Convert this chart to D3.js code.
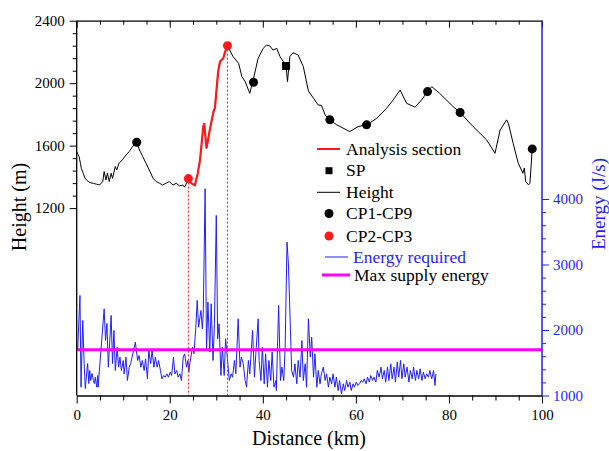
<!DOCTYPE html>
<html><head><meta charset="utf-8">
<script src="https://cdn.jsdelivr.net/npm/d3@7"></script>
<style>body{margin:0;background:#fff}svg{display:block}</style>
</head><body>
<script>
// Height profile (distance km, height m)
const heightDist = [0,0.5,0.8,1.0,1.4,1.8,2.1,2.5,2.9,3.6,4.3,4.9,5.6,5.9,6.3,6.6,7.0,7.4,7.7,8.3,8.6,9.1,9.8,10.6,11.3,12.0,12.6,12.9,13.5,14.2,14.9,15.6,16.4,17.1,17.8,18.5,19.2,19.9,20.7,21.4,22.1,22.8,23.2,23.6,24.0,24.5,25.0,25.4,26.0,26.5,27.2,27.4,27.9,28.6,29.4,29.7,30.4,30.8,31.5,31.9,32.4,33.6,34.8,35.5,36.2,37.2,38.0,39.0,40.1,40.8,41.5,42.2,43.0,43.7,44.6,45.0,45.3,45.8,46.5,47.6,48.7,49.8,50.9,51.9,52.6,53.4,54.4,55.9,58.7,60.5,62.3,64.5,66.6,68.0,69.5,70.9,72.7,74.1,75.4,76.3,78.0,80.9,82.4,85.2,88.1,89.9,91.0,92.4,92.8,93.8,94.9,95.9,96.2,96.5,97.1,97.4,97.6,97.9];
const heightValues = [1562,1530,1487,1455,1423,1391,1380,1370,1363,1358,1353,1348,1370,1434,1380,1423,1370,1423,1391,1466,1444,1487,1508,1540,1562,1594,1611,1622,1572,1530,1487,1444,1391,1370,1359,1348,1359,1370,1348,1359,1342,1348,1334,1359,1389,1362,1352,1347,1420,1508,1722,1743,1583,1700,1818,1840,2074,2138,2160,2202,2240,2170,2127,2042,2010,1935,2030,2160,2223,2244,2238,2212,2223,2170,2130,2110,2010,2170,2195,2180,2106,1950,1903,1860,1858,1796,1765,1733,1690,1722,1733,1775,1839,1892,1956,1871,1846,1892,1946,1978,1935,1850,1812,1722,1637,1551,1700,1765,1740,1615,1487,1423,1457,1370,1349,1359,1444,1579];
// Analysis section
const analysisStart = 24.0, analysisEnd = 32.4;
// Check points CP1-CP9
const cpDist = [12.9,24.0,32.4,38.0,54.4,62.3,75.4,82.4,97.9];
const cpHeight = [1622,1389,2240,2006,1765,1733,1946,1812,1579];
const cpRed = [1,2]; // indices of CP2, CP3
// SP
const spDist = [45.0], spHeight = [2110];
// Energy required (J/s)
const energyDist = [0.2,0.7,0.93,1.3,1.6,1.85,2.35,2.6,2.8,3.0,3.3,3.6,3.8,4.0,4.3,4.5,4.6,5.9,6.2,6.5,6.8,7.4,7.7,8.0,8.3,8.7,9.0,9.3,9.6,10.0,10.2,10.6,10.9,11.3,11.6,12.6,13.1,13.4,13.8,14.1,14.5,14.8,15.2,15.5,15.9,16.2,16.6,16.9,17.3,17.6,18.0,18.3,18.7,19.0,19.4,19.7,20.1,20.4,20.8,21.1,21.5,21.8,22.2,22.5,22.9,23.2,23.6,23.9,24.1,24.3,24.9,25.2,25.6,25.9,26.2,26.7,27.0,27.2,27.6,27.9,28.2,28.6,28.9,29.3,29.6,30.0,30.3,30.6,31.0,31.3,31.7,32.0,32.3,32.8,33.2,33.5,33.9,34.2,34.7,35.1,35.4,35.8,36.2,36.5,36.9,37.2,37.8,38.2,38.5,39.0,39.2,39.6,39.9,40.3,40.6,41.0,41.3,41.7,42.0,42.4,42.8,42.9,43.4,43.8,44.1,44.5,44.8,45.2,45.5,45.7,46.2,46.6,46.9,47.3,47.6,48.0,48.4,48.7,49.1,49.4,49.8,50.2,50.5,50.9,51.2,51.6,51.9,52.3,52.6,53.0,53.4,53.7,54.1,54.4,54.8,55.1,55.5,55.8,56.2,56.5,56.9,57.3,57.6,58.0,58.3,58.7,59.0,59.4,59.7,60.1,60.4,60.8,61.1,61.5,61.8,62.2,62.5,62.9,63.2,63.6,63.9,64.3,64.6,65.0,65.4,65.7,66.1,66.4,66.8,67.1,67.5,67.8,68.2,68.5,68.9,69.2,69.6,69.9,70.3,70.6,71.0,71.4,71.7,72.1,72.4,72.8,73.1,73.5,73.8,74.2,74.5,74.9,75.2,75.6,75.9,76.3,76.7,77.0,77.2];
const energyValues = [1687,2527,1127,2145,1488,1107,1488,1183,1382,1229,1336,1229,1183,1280,1127,1305,1127,2324,1840,2100,1432,2222,1488,1993,1382,1737,1432,1585,1382,1534,1331,1585,1229,1432,1488,1814,1534,1610,1432,1534,1382,1560,1254,1687,1488,1687,1432,1585,1432,1534,1382,1254,1305,1280,1330,1280,1356,1305,1585,1330,1382,1280,1330,1229,1585,1636,1432,1534,1356,1484,1738,1637,2043,2451,2043,2298,2018,2247,4157,1688,2425,1663,2400,1535,2094,3749,1866,2094,1306,1738,1306,1866,1637,1229,1331,1280,1535,1331,2171,1433,1586,1484,1229,1127,1535,1331,1993,1280,1637,2171,1535,1229,1738,1178,1637,1127,1535,1229,1663,1127,1229,1076,2374,1229,1433,1229,1738,3341,3010,2553,1382,1280,1484,1178,1535,1280,1840,1229,1484,1127,2171,1586,1890,1280,1637,1127,1382,1178,1331,1433,1229,1331,1127,1280,1178,1331,1127,1280,1076,1229,1025,1178,1076,1229,1127,1204,1076,1178,1127,1204,1153,1178,1229,1204,1255,1178,1280,1204,1306,1229,1280,1204,1382,1280,1433,1255,1382,1204,1433,1229,1484,1255,1433,1204,1509,1280,1535,1255,1484,1280,1433,1204,1382,1255,1433,1229,1382,1255,1407,1229,1356,1255,1331,1280,1382,1255,1382,1153,1330];
const maxSupply = 1700;
// Axis ticks
const xTicks = [0,20,40,60,80,100];
const heightTicks = [1200,1600,2000,2400];
const energyTicks = [1000,2000,3000,4000];
const legendLabels = ["Analysis section","SP","Height","CP1-CP9","CP2-CP3","Energy required","Max supply energy"];

const FONT = '"Liberation Serif"';
const W=609,H=451;
const L=76.7,R=542,T=20.7,B=395.5;
const BLUE="#1f1fff", RED="#ff1a1a", MAG="#ff00ff";
const svg=d3.select("body").append("svg").attr("width",W).attr("height",H);
const x=d3.scaleLinear().domain([0,100]).range([L,R]);
const yH=d3.scaleLinear().domain([0,2400]).range([B,T]);
const yE=d3.scaleLinear().domain([1000,1000+(B-T)/65.5*1000]).range([B,T]);

const heightData=heightDist.map((d,i)=>({d,v:heightValues[i]}));
const energyData=energyDist.map((d,i)=>({d,v:energyValues[i]}));

// energy line
svg.append("path").datum(energyData).attr("fill","none").attr("stroke",BLUE).attr("stroke-width",1)
  .attr("d",d3.line().x(p=>x(p.d)).y(p=>yE(p.v)));
// max supply
svg.append("line").attr("x1",x(0)).attr("x2",R).attr("y1",yE(maxSupply)).attr("y2",yE(maxSupply))
  .attr("stroke",MAG).attr("stroke-width",3);
// height line
svg.append("path").datum(heightData).attr("fill","none").attr("stroke","#000").attr("stroke-width",1)
  .attr("d",d3.line().x(p=>x(p.d)).y(p=>yH(p.v)));
// analysis section
svg.append("path").datum(heightData.filter(p=>p.d>=analysisStart&&p.d<=analysisEnd)).attr("fill","none")
  .attr("stroke",RED).attr("stroke-width",2.2).attr("d",d3.line().x(p=>x(p.d)).y(p=>yH(p.v)));
// dashed verticals
cpRed.forEach(i=>{
  svg.append("line").attr("x1",x(cpDist[i])).attr("x2",x(cpDist[i])).attr("y1",yH(cpHeight[i])).attr("y2",B)
    .attr("stroke",RED).attr("stroke-width",1).attr("stroke-dasharray","2,2");
});
// CP points
svg.selectAll(".cp").data(cpDist.map((d,i)=>({d,v:cpHeight[i],i}))).enter().append("circle")
  .attr("cx",p=>x(p.d)).attr("cy",p=>yH(p.v)).attr("r",4.5)
  .attr("fill",p=>cpRed.includes(p.i)?RED:"#000");
// SP
svg.selectAll(".sp").data(spDist.map((d,i)=>({d,v:spHeight[i]}))).enter().append("rect")
  .attr("x",p=>x(p.d)-4).attr("y",p=>yH(p.v)-4).attr("width",8).attr("height",8).attr("fill","#000");

// Axes
const fs=15, fmt=d3.format("d");
function styleAxis(g,color){
  g.selectAll("text").style("font-family",FONT).style("font-size",fs+"px").attr("fill",color||"#000");
}
// bottom
const gb=svg.append("g").attr("transform",`translate(0,${B})`)
  .call(d3.axisBottom(x).tickValues(xTicks).tickFormat(fmt).tickSize(8).tickSizeOuter(0).tickPadding(6));
gb.select(".domain").attr("stroke-width",1.3);
styleAxis(gb);
const gbm=svg.append("g").attr("transform",`translate(0,${B})`)
  .call(d3.axisBottom(x).tickValues(d3.range(0,101,5).filter(v=>v%20)).tickSize(5).tickFormat(""));
gbm.select(".domain").remove();
// top
const gt=svg.append("g").attr("transform",`translate(0,${T})`)
  .call(d3.axisBottom(x).tickValues(xTicks).tickSize(7).tickSizeOuter(0).tickFormat(""));
gt.select(".domain").attr("stroke-width",1.3);
const gtm=svg.append("g").attr("transform",`translate(0,${T})`)
  .call(d3.axisBottom(x).tickValues(d3.range(0,101,5).filter(v=>v%20)).tickSize(4).tickFormat(""));
gtm.select(".domain").remove();
// left
svg.append("line").attr("x1",L).attr("x2",L).attr("y1",T).attr("y2",B).attr("stroke","#000").attr("stroke-width",1.3);
const gl=svg.append("g").attr("transform",`translate(${L},0)`)
  .call(d3.axisLeft(yH).tickValues(heightTicks).tickFormat(fmt).tickSize(7).tickPadding(5));
gl.select(".domain").remove();
styleAxis(gl);
const glm=svg.append("g").attr("transform",`translate(${L},0)`)
  .call(d3.axisLeft(yH).tickValues(d3.range(1200,2401,80).filter(v=>!heightTicks.includes(v))).tickSize(4).tickFormat(""));
glm.select(".domain").remove();
// right
svg.append("line").attr("x1",R).attr("x2",R).attr("y1",T).attr("y2",B).attr("stroke",BLUE).attr("stroke-width",1.5);
const gr=svg.append("g").attr("transform",`translate(${R},0)`)
  .call(d3.axisRight(yE).tickValues(energyTicks).tickFormat(fmt).tickSize(7).tickPadding(4));
gr.select(".domain").remove();
gr.selectAll("line").attr("stroke",BLUE);
styleAxis(gr,BLUE);
const grm=svg.append("g").attr("transform",`translate(${R},0)`)
  .call(d3.axisRight(yE).tickValues(d3.range(1000,4001,200).filter(v=>v%1000)).tickSize(4).tickFormat(""));
grm.select(".domain").remove();
grm.selectAll("line").attr("stroke",BLUE);

// axis titles
function txt(sel){return sel.style("font-family",FONT);}
txt(svg.append("text").attr("x",309).attr("y",445).attr("text-anchor","middle").style("font-size","20px").text("Distance (km)"));
txt(svg.append("text").attr("transform","translate(26,207) rotate(-90)").attr("text-anchor","middle").style("font-size","20px").text("Height (m)"));
txt(svg.append("text").attr("transform","translate(605,204) rotate(-90)").attr("text-anchor","middle").style("font-size","19px").attr("fill",BLUE).text("Energy (J/s)"));

// legend
const lg=svg.append("g");
const rows=[149,170.7,192.3,213.5,236,257,275];
const lfs=17.5;
lg.append("line").attr("x1",317).attr("x2",340).attr("y1",rows[0]).attr("y2",rows[0]).attr("stroke",RED).attr("stroke-width",2);
lg.append("rect").attr("x",325.5).attr("y",rows[1]-3.5).attr("width",7).attr("height",7).attr("fill","#000");
lg.append("line").attr("x1",317).attr("x2",340).attr("y1",rows[2]).attr("y2",rows[2]).attr("stroke","#000").attr("stroke-width",1);
lg.append("circle").attr("cx",329).attr("cy",rows[3]).attr("r",4.5).attr("fill","#000");
lg.append("circle").attr("cx",329).attr("cy",rows[4]).attr("r",4.5).attr("fill",RED);
lg.append("line").attr("x1",325).attr("x2",348).attr("y1",rows[5]).attr("y2",rows[5]).attr("stroke",BLUE).attr("stroke-width",1);
lg.append("line").attr("x1",322).attr("x2",350).attr("y1",rows[6]).attr("y2",rows[6]).attr("stroke",MAG).attr("stroke-width",3);
const tx=[346,346,346,346,346,353,354];
legendLabels.forEach((t,i)=>{
  txt(lg.append("text").attr("x",tx[i]).attr("y",rows[i]).attr("dy","0.33em").style("font-size",lfs+"px")
    .attr("fill",i===5?BLUE:"#000").text(t));
});
</script>
</body></html>
